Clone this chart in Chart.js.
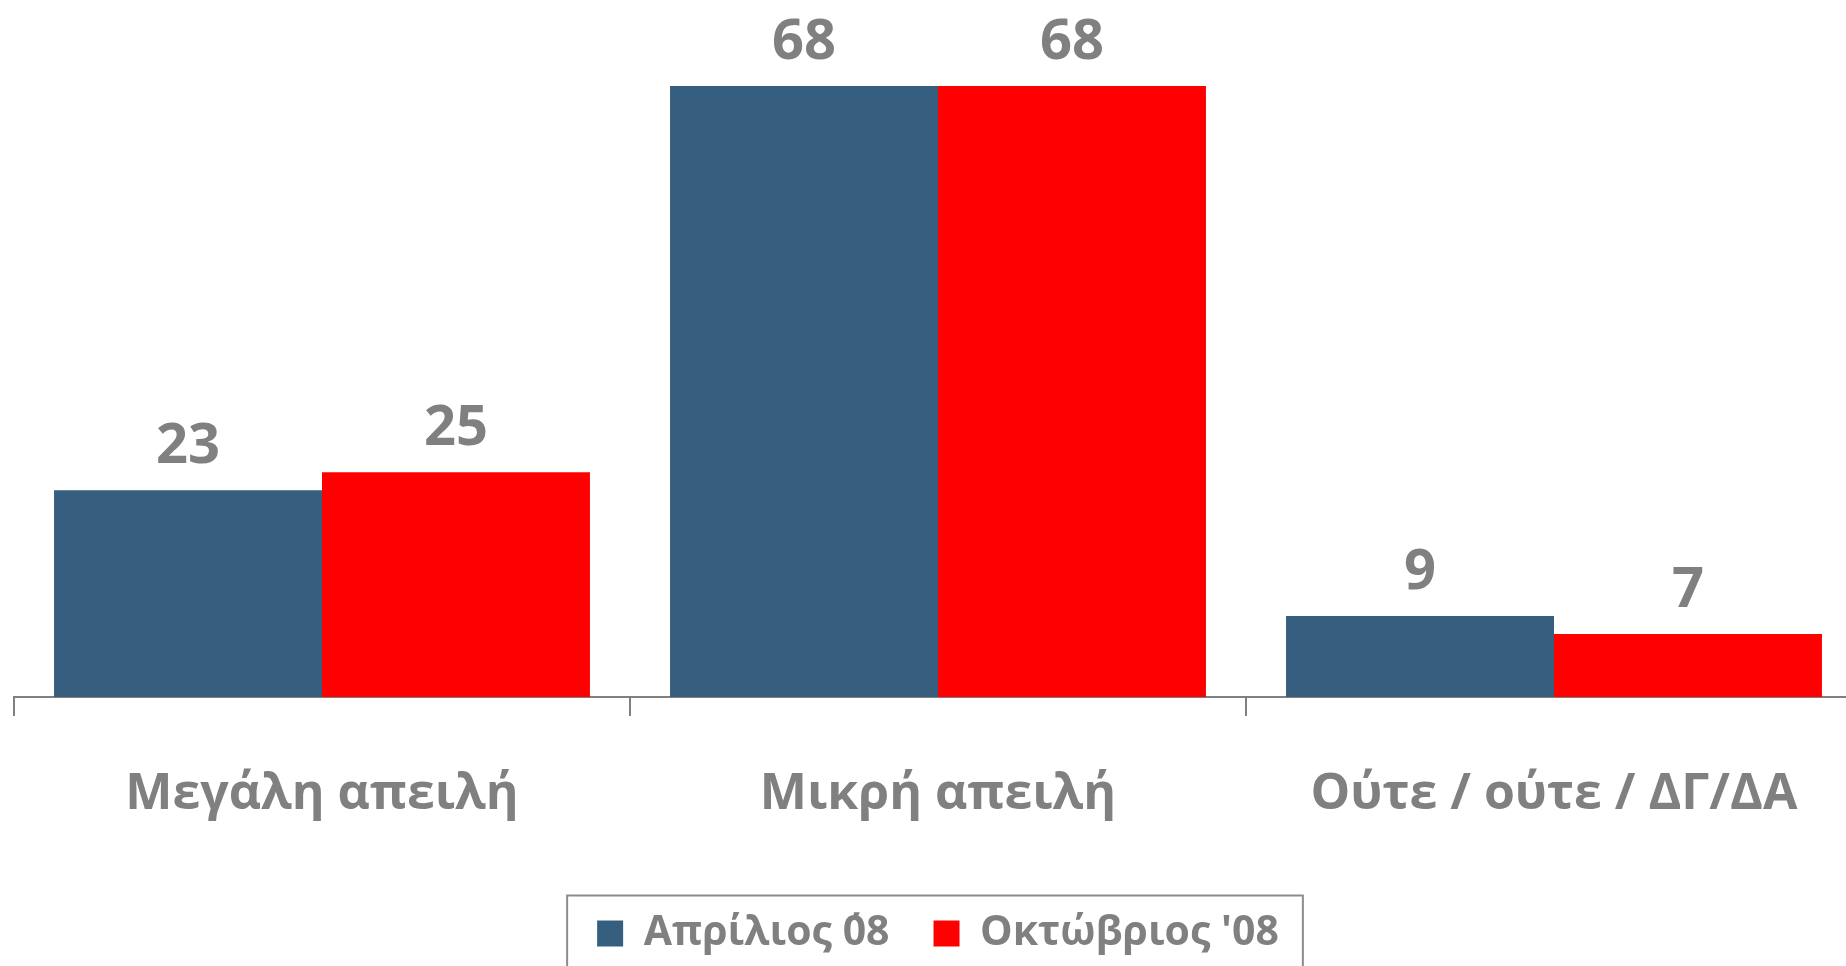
<!DOCTYPE html>
<html>
<head>
<meta charset="utf-8">
<script src="https://cdn.jsdelivr.net/npm/chart.js@4"></script>
<style>
  html, body { margin: 0; padding: 0; background: #fff; overflow: hidden; }
  #wrap { width: 1846px; height: 966px; overflow: hidden; }
</style>
</head>
<body>
<div id="wrap"><canvas id="myChart" width="1876" height="966"></canvas></div>
<script>
// data
var categories = ["Μεγάλη απειλή", "Μικρή απειλή", "Ούτε / ούτε / ΔΓ/ΔΑ"];
var seriesNames = ["Απρίλιος ΄08", "Οκτώβριος '08"];
var aprilValues = [23, 68, 9];
var octoberValues = [25, 68, 7];
var barColors = ["#365E7E", "#FF0000"];

var grey = "#808080";
var fontName = "'Open Sans', sans-serif";

// numbers above the bars
const valueLabels = {
  id: 'valueLabels',
  afterDatasetsDraw(chart) {
    const ctx = chart.ctx;
    ctx.save();
    ctx.font = "bold 56px " + fontName;
    ctx.fillStyle = grey;
    ctx.textAlign = 'center';
    ctx.textBaseline = 'alphabetic';
    chart.data.datasets.forEach((ds, i) => {
      chart.getDatasetMeta(i).data.forEach((bar, j) => {
        ctx.fillText(ds.data[j], bar.x, bar.y - 27);
      });
    });
    ctx.restore();
  }
};

// frame round the legend
const legendFrame = {
  id: 'legendFrame',
  afterDraw(chart) {
    const boxes = chart.legend.legendHitBoxes;
    if (!boxes || !boxes.length) return;
    const first = boxes[0];
    const last = boxes[boxes.length - 1];
    const cy = first.top + first.height / 2;
    const ctx = chart.ctx;
    ctx.save();
    ctx.strokeStyle = "#8C8C8C";
    ctx.lineWidth = 2;
    const x0 = first.left - 30;
    const x1 = last.left + last.width + 24;
    ctx.strokeRect(x0, cy - 38, x1 - x0, 200);
    ctx.restore();
  }
};

let mychart = new Chart("myChart", {
  type: "bar",
  data: {
    labels: categories,
    datasets: [{
      label: seriesNames[0],
      backgroundColor: barColors[0],
      data: aprilValues
    }, {
      label: seriesNames[1],
      backgroundColor: barColors[1],
      data: octoberValues
    }]
  },
  options: {
    responsive: false,
    animation: false,
    categoryPercentage: 0.87,
    barPercentage: 1,
    layout: { padding: { left: 14, right: 14, top: 14, bottom: 2 } },
    plugins: {
      tooltip: { enabled: false },
      legend: {
        position: 'bottom',
        labels: {
          boxWidth: 26,
          boxHeight: 26,
          padding: 44,
          color: grey,
          font: { family: fontName, size: 41, weight: 'bold' }
        }
      }
    },
    scales: {
      x: {
        grid: { offset: true, drawOnChartArea: false, drawTicks: true, tickLength: 19, color: grey, lineWidth: 2 },
        border: { display: true, color: grey, width: 2 },
        ticks: {
          color: grey,
          padding: 49,
          font: { family: fontName, size: 50, weight: 'bold' }
        },
        afterFit: s => { s.height = 137 + 38 - 3; }
      },
      y: {
        display: false,
        min: 0,
        max: 76
      }
    }
  },
  plugins: [valueLabels, legendFrame]
});
</script>
</body>
</html>
